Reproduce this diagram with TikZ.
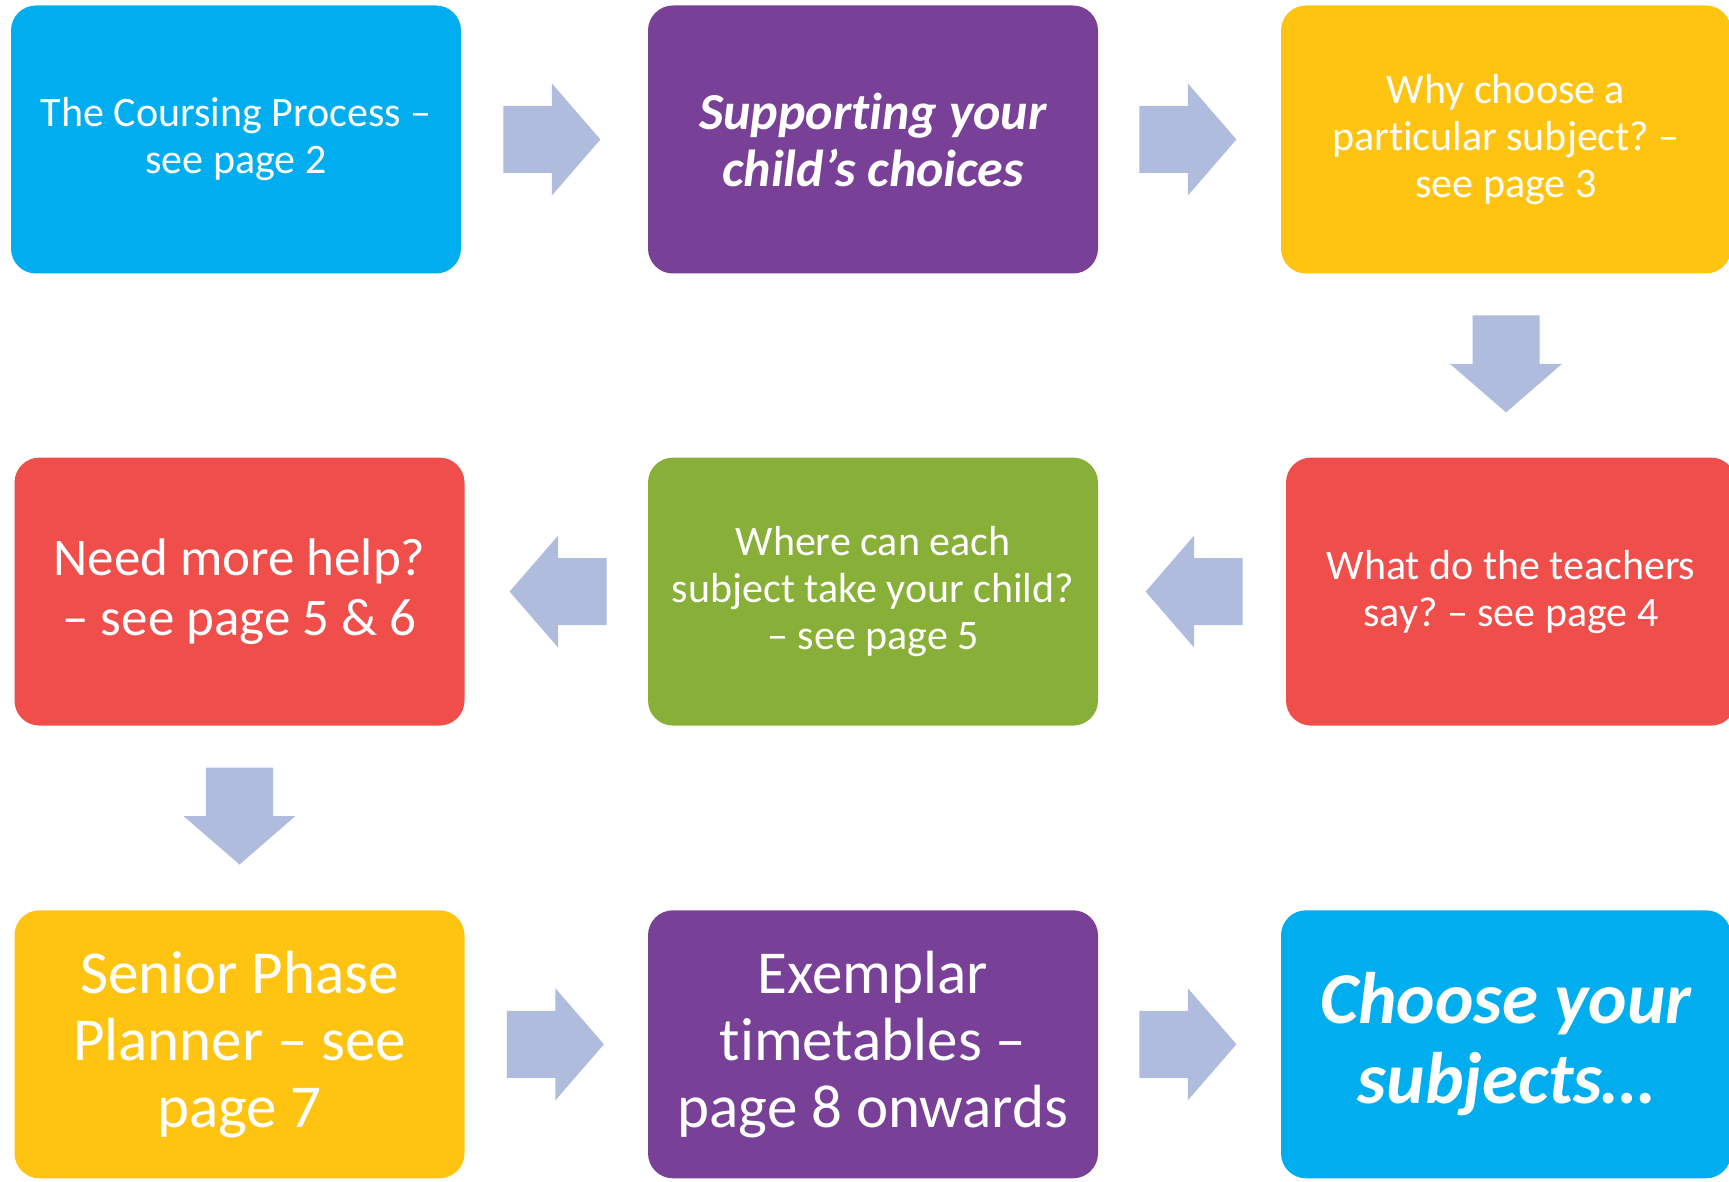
\documentclass[tikz,border=0pt]{standalone}
\usepackage{fontspec}
\setmainfont{Carlito}[Ligatures=CommonOff]
\usepackage{tikz}
\usetikzlibrary{calc}
\frenchspacing
\definecolor{cyanbox}{RGB}{0,174,239}
\definecolor{purplebox}{RGB}{121,64,151}
\definecolor{yellowbox}{RGB}{255,196,18}
\definecolor{redbox}{RGB}{239,78,74}
\definecolor{greenbox}{RGB}{136,176,56}
\definecolor{arrowfill}{RGB}{175,188,222}
\newcommand{\blockarr}[2]{\fill[arrowfill, shift={#1}, rotate=#2] (0,-33.5) -- (48.5,-33.5) -- (48.5,-56) -- (97,0) -- (48.5,56) -- (48.5,33.5) -- (0,33.5) -- cycle;}
\newcommand{\smallfont}{\fontsize{21}{23.5}\selectfont}

\begin{document}
\begin{tikzpicture}[x=0.5pt, y=-0.5pt,
    stage/.style={rounded corners=12.5pt, minimum width=225pt, minimum height=134pt,
        inner sep=0pt, text=white, align=center}]
            \useasboundingbox (0,0) rectangle (1729,1182);

            % first row
            \node[stage, fill=cyanbox, font=\smallfont] (coursing) at (236,139.5) {The Coursing Process –\\see page 2};
            \node[stage, fill=purplebox, font=\fontsize{26}{28.5}\selectfont\bfseries\itshape] (support) at (873,139.5) {Supporting your\\child’s choices};
            \node[stage, fill=yellowbox, font=\smallfont] (whysubj) at (1506,139.5) {Why choose a\\particular subject? –\\see page 3};

            % second row
            \node[stage, fill=redbox, font=\fontsize{26.5}{30}\selectfont] (morehelp) at (239.5,591.6) {Need more help?\\– see page 5 \& 6};
            \node[stage, fill=greenbox, font=\smallfont] (where) at (873,591.6) {Where can each\\subject take your child?\\– see page 5};
            \node[stage, fill=redbox, font=\smallfont] (teachers) at (1511,591.6) {What do the teachers\\say? – see page 4};

            % third row
            \node[stage, fill=yellowbox, font=\fontsize{30.5}{33.5}\selectfont] (planner) at (239.5,1044.3) {Senior Phase\\Planner – see\\page 7};
            \node[stage, fill=purplebox, font=\fontsize{30.5}{33.5}\selectfont] (exemplar) at (873,1044.3) {Exemplar\\timetables –\\page 8 onwards};
            \node[stage, fill=cyanbox, font=\fontsize{36.5}{40}\selectfont\bfseries\itshape] (choose) at (1506,1044.3) {Choose your\\subjects…};

            % block arrows
            \blockarr{($(coursing.east)+(42,0)$)}{0}
            \blockarr{($(support.east)+(41,0)$)}{0}
            \blockarr{($(whysubj.south)+(0,41.5)$)}{-90}
            \blockarr{($(teachers.west)+(-43,0)$)}{180}
            \blockarr{($(where.west)+(-41,0)$)}{180}
            \blockarr{($(morehelp.south)+(0,41.5)$)}{-90}
            \blockarr{($(planner.east)+(42,0)$)}{0}
            \blockarr{($(exemplar.east)+(41,0)$)}{0}
        \end{tikzpicture}
\end{document}
